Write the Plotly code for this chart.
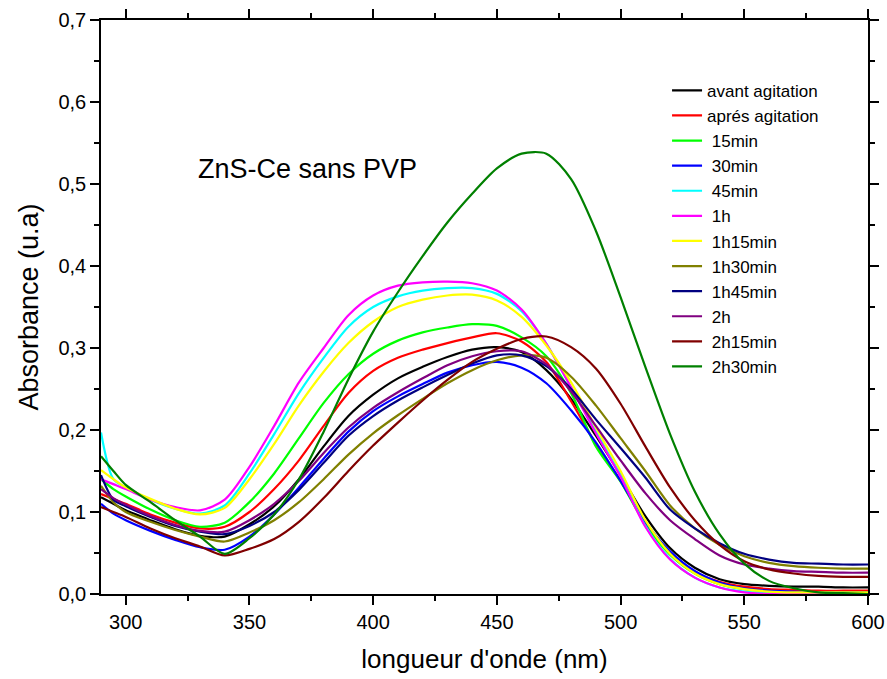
import plotly.graph_objects as go

wavelength = [290, 295, 300] + list(range(310, 601, 10))

avant_agitation = [0.118, 0.110, 0.102, 0.090, 0.079, 0.071, 0.070, 0.085, 0.107, 0.140, 0.180, 0.217, 0.243, 0.263, 0.277, 0.289, 0.298, 0.301, 0.295, 0.273, 0.238, 0.193, 0.145, 0.095, 0.056, 0.032, 0.018, 0.012, 0.010, 0.009, 0.009, 0.008, 0.008]
apres_agitation = [0.122, 0.116, 0.110, 0.097, 0.087, 0.080, 0.082, 0.100, 0.128, 0.163, 0.205, 0.245, 0.272, 0.288, 0.298, 0.306, 0.313, 0.318, 0.308, 0.283, 0.235, 0.183, 0.138, 0.088, 0.050, 0.027, 0.015, 0.009, 0.006, 0.005, 0.004, 0.004, 0.004]
min15 = [0.140, 0.128, 0.119, 0.103, 0.090, 0.082, 0.087, 0.112, 0.147, 0.190, 0.233, 0.268, 0.293, 0.309, 0.319, 0.325, 0.329, 0.327, 0.313, 0.290, 0.245, 0.180, 0.137, 0.085, 0.048, 0.025, 0.012, 0.006, 0.003, 0.002, 0.002, 0.002, 0.002]
min30 = [0.110, 0.098, 0.090, 0.077, 0.066, 0.057, 0.054, 0.070, 0.097, 0.130, 0.165, 0.198, 0.223, 0.241, 0.256, 0.270, 0.279, 0.283, 0.276, 0.257, 0.224, 0.185, 0.138, 0.088, 0.052, 0.028, 0.014, 0.007, 0.004, 0.003, 0.002, 0.002, 0.002]
min45 = [0.197, 0.140, 0.130, 0.115, 0.104, 0.098, 0.108, 0.147, 0.195, 0.245, 0.288, 0.326, 0.350, 0.363, 0.370, 0.373, 0.373, 0.366, 0.345, 0.305, 0.252, 0.198, 0.145, 0.083, 0.043, 0.020, 0.008, 0.003, 0.001, 0.000, 0.000, 0.000, 0.000]
h1 = [0.140, 0.134, 0.128, 0.115, 0.106, 0.102, 0.115, 0.155, 0.205, 0.258, 0.300, 0.340, 0.364, 0.376, 0.380, 0.381, 0.379, 0.370, 0.347, 0.305, 0.252, 0.196, 0.143, 0.082, 0.042, 0.020, 0.008, 0.002, 0.000, 0.000, 0.000, 0.000, 0.000]
h1m15 = [0.151, 0.140, 0.130, 0.116, 0.104, 0.097, 0.105, 0.140, 0.183, 0.230, 0.271, 0.306, 0.332, 0.350, 0.359, 0.364, 0.365, 0.358, 0.338, 0.303, 0.258, 0.203, 0.150, 0.090, 0.049, 0.025, 0.012, 0.006, 0.003, 0.002, 0.002, 0.002, 0.002]
h1m30 = [0.132, 0.112, 0.100, 0.088, 0.078, 0.070, 0.064, 0.075, 0.090, 0.112, 0.140, 0.170, 0.196, 0.218, 0.238, 0.257, 0.273, 0.285, 0.291, 0.288, 0.265, 0.230, 0.190, 0.150, 0.108, 0.080, 0.060, 0.046, 0.038, 0.034, 0.032, 0.031, 0.031]
h1m45 = [0.145, 0.115, 0.107, 0.094, 0.083, 0.076, 0.073, 0.083, 0.100, 0.127, 0.160, 0.193, 0.217, 0.236, 0.252, 0.267, 0.281, 0.291, 0.291, 0.278, 0.250, 0.213, 0.178, 0.142, 0.103, 0.080, 0.062, 0.049, 0.042, 0.038, 0.037, 0.036, 0.036]
h2 = [0.128, 0.117, 0.109, 0.095, 0.084, 0.077, 0.076, 0.090, 0.110, 0.138, 0.172, 0.203, 0.227, 0.246, 0.263, 0.279, 0.290, 0.296, 0.296, 0.280, 0.247, 0.205, 0.163, 0.123, 0.090, 0.067, 0.047, 0.036, 0.031, 0.028, 0.027, 0.026, 0.026]
h2m15 = [0.106, 0.100, 0.094, 0.080, 0.068, 0.058, 0.047, 0.055, 0.067, 0.088, 0.117, 0.150, 0.181, 0.209, 0.236, 0.261, 0.283, 0.299, 0.311, 0.314, 0.301, 0.275, 0.232, 0.180, 0.130, 0.090, 0.060, 0.040, 0.030, 0.025, 0.022, 0.021, 0.021]
h2m30 = [0.168, 0.150, 0.133, 0.112, 0.090, 0.070, 0.049, 0.068, 0.097, 0.140, 0.198, 0.262, 0.320, 0.368, 0.412, 0.453, 0.488, 0.519, 0.537, 0.537, 0.506, 0.443, 0.362, 0.277, 0.195, 0.125, 0.073, 0.037, 0.016, 0.007, 0.002, 0.001, 0.000]

names = ["avant agitation", "aprés agitation", "\u00a015min", "\u00a030min", "\u00a045min", "\u00a01h",
         "\u00a01h15min", "\u00a01h30min", "\u00a01h45min", "\u00a02h", "\u00a02h15min", "\u00a02h30min"]
series = [avant_agitation, apres_agitation, min15, min30, min45, h1, h1m15, h1m30, h1m45, h2, h2m15, h2m30]
colors = ["#000000", "#FF0000", "#00FF00", "#0000FF", "#00FFFF", "#FF00FF",
          "#FFFF00", "#808000", "#000080", "#800080", "#800000", "#008000"]

fig = go.Figure()
for name, ys, c in zip(names, series, colors):
    assert len(ys) == len(wavelength)
    fig.add_trace(go.Scatter(x=wavelength, y=ys, mode="lines", name=name,
                             line=dict(color=c, width=2.2, shape="spline", smoothing=0.8)))

font = "Liberation Sans, Arial, sans-serif"
axis_common = dict(showline=True, linecolor="black", linewidth=1.5, mirror="allticks",
                   ticks="outside", ticklen=9, tickwidth=1.5, tickcolor="black",
                   showgrid=False, zeroline=False, automargin=False,
                   tickfont=dict(family=font, size=20, color="black"))

fig.update_xaxes(range=[290, 600], tick0=300, dtick=50,
                 minor=dict(dtick=25, tick0=300, ticks="outside", ticklen=5, tickwidth=1.5, tickcolor="black"),
                 title=dict(text="longueur d'onde (nm)", font=dict(family=font, size=26, color="black"), standoff=18),
                 **axis_common)
fig.update_yaxes(range=[0, 0.7], tick0=0, dtick=0.1, tickformat=".1f",
                 minor=dict(dtick=0.05, ticks="outside", ticklen=5, tickwidth=1.5, tickcolor="black"),
                 title=dict(text="Absorbance (u.a)", font=dict(family=font, size=27, color="black"), standoff=12),
                 **axis_common)

fig.add_annotation(x=0.269, y=0.74, xref="paper", yref="paper", xanchor="center", yanchor="middle",
                   text="ZnS-Ce sans PVP", showarrow=False,
                   font=dict(family=font, size=27, color="black"))

fig.update_layout(width=887, height=679, margin=dict(l=101, r=19, t=20, b=85, autoexpand=False),
                  plot_bgcolor="white", paper_bgcolor="white", separators=",.",
                  legend=dict(x=0.738, y=0.908, xanchor="left", yanchor="top",
                              bgcolor="rgba(0,0,0,0)", font=dict(family=font, size=17, color="black"),
                              tracegroupgap=0, itemwidth=30),
                  showlegend=True)

fig.write_html("out.html")
